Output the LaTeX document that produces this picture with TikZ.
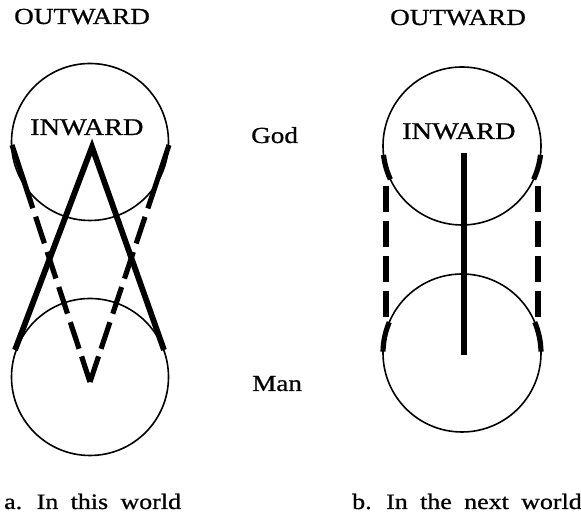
\documentclass[tikz,border=0pt]{standalone}
\usepackage{fontspec}
\setmainfont[FakeStretch=1.18,FakeBold=0.8]{Liberation Serif}
\newfontfamily\capfont[FakeStretch=1.18,FakeBold=0.8,WordSpace=1.9]{Liberation Serif}
\begin{document}
\begin{tikzpicture}[x=1pt,y=1pt,
  ring/.style={line width=1.6pt},
  bold/.style={line width=5.8pt},
  dashedbold/.style={line width=5.2pt},
  lbl/.style={anchor=base west,inner sep=0pt,font=\fontsize{23}{26}\selectfont},
  caplbl/.style={anchor=base west,inner sep=0pt,font=\capfont\fontsize{22}{26}\selectfont}]
\useasboundingbox (0,0) rectangle (581,518);
% circle centres
\coordinate (LT) at (90,376);
\coordinate (LB) at (90,141);
\coordinate (RT) at (462,372);
\coordinate (RB) at (462,165);
\draw[ring] (LT) circle (78.5);
\draw[ring] (LB) circle (78.5);
\draw[ring] (RT) circle (79);
\draw[ring] (RB) circle (79);
% left figure points
\coordinate (A) at (92,371);
\coordinate (L1) at (15,168);
\coordinate (R1) at (164,168);
\coordinate (B) at (90,136);
\coordinate (L2) at (12,373);
\coordinate (R2) at (169,373);
\draw[bold] (L1) -- (A) -- (R1);
\draw[dashedbold,dash pattern=on 27pt off 8pt on 28pt off 9pt on 28pt off 9pt on 28pt off 9pt on 28pt off 9pt on 80pt] (B) -- (L2);
\draw[dashedbold,dash pattern=on 27pt off 8pt on 28pt off 9pt on 28pt off 9pt on 28pt off 9pt on 28pt off 9pt on 80pt] (B) -- (R2);
% right figure
\coordinate (V1) at (464,365);
\coordinate (V2) at (464,163);
\draw[bold] (V1) -- (V2);
\draw[dashedbold] (RT) ++(186.5:79) arc[start angle=186.5,end angle=205,radius=79];
\draw[dashedbold] (RT) ++(353.5:79) arc[start angle=353.5,end angle=335,radius=79];
\draw[dashedbold] (RB) ++(157:79) arc[start angle=157,end angle=179,radius=79];
\draw[dashedbold] (RB) ++(23:79) arc[start angle=23,end angle=1,radius=79];
\coordinate (D1a) at (386,332);
\coordinate (D1b) at (386,201);
\coordinate (D2a) at (538,332);
\coordinate (D2b) at (538,201);
\draw[dashedbold,dash pattern=on 26pt off 9pt] (D1a) -- (D1b);
\draw[dashedbold,dash pattern=on 26pt off 9pt] (D2a) -- (D2b);
% labels
\node[lbl] (out1) at (14,494) {OUTWARD};
\node[lbl] (out2) at (390,493) {OUTWARD};
\node[lbl,font=\fontsize{24}{27}\selectfont] (in1) at (30,383) {INWARD};
\node[lbl,font=\fontsize{24}{27}\selectfont] (in2) at (402,379) {INWARD};
\node[lbl] (god) at (251,375) {God};
\node[lbl] (man) at (252,127) {Man};
\node[caplbl] (capa) at (4,9) {a. In this world};
\node[caplbl] (capb) at (352,9) {b. In the next world};
\end{tikzpicture}
\end{document}
